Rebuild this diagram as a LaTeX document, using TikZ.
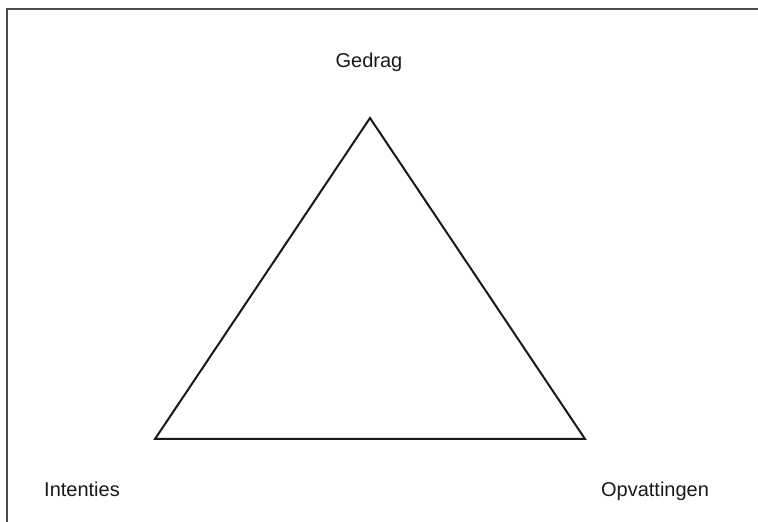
\documentclass[tikz,border=0pt]{standalone}
\usepackage{fontspec}
\setmainfont{Liberation Sans}
\begin{document}
\begin{tikzpicture}[x=1pt,y=1pt,
  lbl/.style={font=\fontsize{20}{24}\selectfont, text=black!90, inner sep=0pt, anchor=base},
  edge/.style={line width=2pt, black!90, line join=miter}]
\useasboundingbox (0,0) rectangle (758,522);
\draw[line width=2pt, black!70] (7,0) -- (7,513) -- (760,513);
\coordinate (top) at (370,404);
\coordinate (bl) at (155,83);
\coordinate (br) at (585,83);
\draw[edge] (top) -- (bl) -- (br) -- cycle;
\node[lbl] (g) at (369,454) {Gedrag};
\node[lbl] (i) at (82,25) {Intenties};
\node[lbl] (o) at (655,25) {Opvattingen};
\end{tikzpicture}
\end{document}
